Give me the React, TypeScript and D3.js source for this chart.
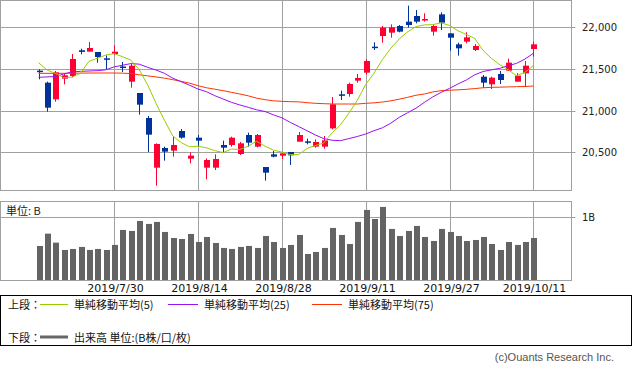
import React from "react";
import * as d3 from "d3";

const dates = [
  "7/17","7/18","7/19","7/22","7/23","7/24","7/25","7/26","7/29","7/30","7/31",
  "8/1","8/2","8/5","8/6","8/7","8/8","8/9","8/13","8/14","8/15","8/16","8/19","8/20","8/21","8/22","8/23","8/26","8/27","8/28","8/29","8/30",
  "9/2","9/3","9/4","9/5","9/6","9/9","9/10","9/11","9/12","9/13","9/17","9/18","9/19","9/20","9/24","9/25","9/26","9/27","9/30",
  "10/1","10/2","10/3","10/4","10/7","10/8","10/9","10/10","10/11",
];

const opens = [21480,21336,21136,21384,21416,21725,21708,21704,21628,21680,21530,21348,21212,20912,20316,20552,20520,20756,20424,20676,20316,20316,20588,20588,20480,20708,20568,20324,20476,20460,20504,20628,20632,20568,20568,20788,21196,21200,21360,21456,21768,21896,21936,22016,22068,22136,22088,21948,22156,21928,21796,21828,21728,21408,21316,21440,21480,21348,21448,21740];
const highs = [21496,21348,21476,21440,21680,21744,21824,21704,21664,21784,21584,21560,21212,20936,20608,20568,20696,20780,20500,20708,20428,20476,20640,20688,20624,20736,20720,20324,20516,20488,20504,20744,20664,20656,20696,21164,21240,21336,21440,21616,21820,22016,22036,22028,22260,22208,22168,22028,22180,21928,21816,21940,21800,21428,21408,21476,21624,21450,21596,21828];
const lows = [21376,20988,21108,21316,21400,21676,21708,21576,21500,21668,21464,21276,20952,20504,20100,20400,20448,20664,20368,20568,20176,20288,20496,20568,20468,20568,20560,20160,20440,20420,20348,20628,20596,20556,20544,20776,21128,21168,21336,21432,21728,21816,21876,21940,22000,22048,22068,21900,21968,21720,21660,21808,21716,21276,21260,21320,21476,21348,21296,21648];
const closes = [21469,21036,21460,21424,21620,21705,21752,21644,21616,21708,21520,21540,21072,20712,20600,20508,20588,20676,20460,20640,20408,20420,20556,20676,20608,20616,20708,20256,20448,20488,20464,20708,20620,20624,20644,21076,21188,21320,21392,21596,21760,21996,22000,21948,22028,22068,22100,22016,22056,21876,21748,21880,21776,21336,21396,21368,21576,21420,21540,21796];

const ma5 = [21576,21488,21448,21396,21402,21449,21592,21629,21667,21685,21648,21606,21491,21310,21089,20886,20696,20617,20566,20574,20554,20521,20497,20540,20534,20575,20633,20573,20527,20503,20473,20473,20546,20581,20612,20734,20830,20970,21124,21314,21451,21613,21749,21860,21946,22008,22029,22032,22054,22023,21959,21915,21867,21723,21627,21551,21490,21419,21460,21540];
const ma25 = [21400,21405,21410,21440,21465,21472,21476,21480,21490,21525,21545,21565,21558,21520,21488,21448,21390,21348,21305,21260,21228,21180,21140,21100,21068,21040,21010,20990,20950,20915,20860,20810,20760,20708,20665,20645,20640,20665,20690,20720,20760,20795,20850,20920,20975,21030,21100,21165,21220,21268,21320,21368,21430,21470,21490,21508,21540,21568,21620,21688];
const ma75 = [21448,21448,21448,21448,21450,21450,21452,21452,21452,21452,21450,21445,21430,21418,21405,21390,21372,21352,21330,21300,21275,21258,21240,21220,21200,21178,21150,21132,21118,21112,21108,21106,21096,21088,21084,21080,21080,21080,21080,21088,21094,21104,21118,21138,21160,21185,21200,21225,21240,21245,21250,21256,21265,21275,21280,21282,21285,21288,21290,21296];

// volume in billions of shares
const volumes = [0.543,0.739,0.596,0.479,0.495,0.527,0.479,0.495,0.479,0.559,0.798,0.782,0.941,0.894,0.926,0.766,0.670,0.654,0.734,0.606,0.686,0.590,0.511,0.495,0.527,0.543,0.511,0.702,0.606,0.511,0.559,0.718,0.415,0.447,0.511,0.830,0.718,0.574,0.926,1.117,0.973,1.165,0.814,0.702,0.782,0.862,0.686,0.622,0.814,0.766,0.702,0.622,0.638,0.686,0.574,0.479,0.606,0.559,0.606,0.670];

const priceTicks = [20500, 21000, 21500, 22000];
const dateTicks = ["7/30", "8/14", "8/28", "9/11", "9/27", "10/11"];
const dateTickLabels = ["2019/7/30", "2019/8/14", "2019/8/28", "2019/9/11", "2019/9/27", "2019/10/11"];
const volumeTicks = [1];
const volumeTickLabels = ["1B"];

const UP = "#ff0033";
const DOWN = "#003399";
const C5 = "#99cc00";
const C25 = "#9911ee";
const C75 = "#ff3300";
const GRID = "#a0a0a0";
const LATIN = "'DejaVu Sans', sans-serif";
const CJK = "'Noto Sans CJK JP', sans-serif";

export default function App() {
  const W = 633, H = 377;
  const left = 0.5, right = 571.5;
  const mainTop = 0.5, mainBottom = 190.5;
  const volTop = 201.5, volBottom = 280.5;

  const x = d3.scalePoint<string>().domain(dates).range([38.6, 533.4]);
  const y = d3.scaleLinear().domain([20042, 22328]).range([190.5, 0]);
  const yv = d3.scaleLinear().domain([0, 1.25]).range([280, 201.6]);

  const px = (d: string) => Math.round(x(d) as number) + 0.5;
  const line = d3
    .line<number>()
    .x((_, i) => x(dates[i]) as number)
    .y((v) => y(v));

  return (
    <svg
      width={W}
      height={H}
      viewBox={`0 0 ${W} ${H}`}
      style={{ position: "absolute", left: 0, top: 0, display: "block", background: "#fff" }}
    >
      {/* main panel grid */}
      {priceTicks.map((t) => {
        const yy = Math.round(y(t)) + 0.5;
        return (
          <g key={t}>
            <line x1={left} x2={right + 4} y1={yy} y2={yy} stroke={GRID} strokeWidth={1} />
            <text x={582} y={yy} dominantBaseline="central" fontFamily={LATIN} fontSize={10} fill="#222">
              {d3.format(",")(t)}
            </text>
          </g>
        );
      })}
      {dateTicks.map((d) => (
        <g key={d}>
          <line x1={px(d)} x2={px(d)} y1={mainTop} y2={mainBottom} stroke={GRID} strokeWidth={1} />
          <line x1={px(d)} x2={px(d)} y1={volTop} y2={volBottom} stroke={GRID} strokeWidth={1} />
        </g>
      ))}
      <rect x={left} y={mainTop} width={right - left} height={mainBottom - mainTop} fill="none" stroke={GRID} strokeWidth={1} />

      {/* candles */}
      {dates.map((d, i) => {
        const o = opens[i], c = closes[i], h = highs[i], l = lows[i];
        const col = c >= o ? UP : DOWN;
        const cx = px(d);
        const top = y(Math.max(o, c));
        const bot = y(Math.min(o, c));
        const bh = Math.max(1.5, bot - top);
        return (
          <g key={d}>
            <line x1={cx} x2={cx} y1={y(h)} y2={y(l)} stroke={col} strokeWidth={1} />
            <rect x={cx - 2.5} y={top} width={6} height={bh} fill={col} />
          </g>
        );
      })}

      {/* moving averages */}
      <path d={line(ma75) || ""} fill="none" stroke={C75} strokeWidth={1} />
      <path d={line(ma25) || ""} fill="none" stroke={C25} strokeWidth={1} />
      <path d={line(ma5) || ""} fill="none" stroke={C5} strokeWidth={1} />

      {/* volume panel */}
      {volumeTicks.map((t, k) => {
        const yy = Math.round(yv(t)) + 0.5;
        return (
          <g key={t}>
            <line x1={left} x2={right + 4} y1={yy} y2={yy} stroke={GRID} strokeWidth={1} />
            <text x={582} y={yy} dominantBaseline="central" fontFamily={LATIN} fontSize={10} fill="#222">
              {volumeTickLabels[k]}
            </text>
          </g>
        );
      })}
      {dates.map((d, i) => (
        <rect
          key={d}
          x={Math.round(x(d) as number) - 2}
          y={yv(volumes[i])}
          width={6}
          height={yv(0) - yv(volumes[i])}
          fill="#646464"
        />
      ))}
      <rect x={left} y={volTop} width={right - left} height={volBottom - volTop} fill="none" stroke={GRID} strokeWidth={1} />
      <text x={6} y={210} dominantBaseline="central" fontFamily={CJK} fontSize={11} fill="#222">
        単位: B
      </text>

      {/* date labels */}
      {dateTicks.map((d, k) => (
        <text key={d} x={px(d) + 1} y={292} textAnchor="middle" fontFamily={LATIN} fontSize={11} fill="#111">
          {dateTickLabels[k]}
        </text>
      ))}

      {/* legend */}
      <rect x={0.5} y={295.5} width={631} height={50} fill="none" stroke="#000" strokeWidth={1} />
      <text x={8} y={304} dominantBaseline="central" fontFamily={CJK} fontSize={11} fill="#111">上段：</text>
      <line x1={40} x2={68} y1={304.5} y2={304.5} stroke={C5} strokeWidth={1} />
      <text x={74} y={304} dominantBaseline="central" fontFamily={CJK} fontSize={11} fill="#111">単純移動平均(5)</text>
      <line x1={168} x2={198} y1={304.5} y2={304.5} stroke={C25} strokeWidth={1} />
      <text x={204} y={304} dominantBaseline="central" fontFamily={CJK} fontSize={11} fill="#111">単純移動平均(25)</text>
      <line x1={312} x2={342} y1={304.5} y2={304.5} stroke={C75} strokeWidth={1} />
      <text x={348} y={304} dominantBaseline="central" fontFamily={CJK} fontSize={11} fill="#111">単純移動平均(75)</text>

      <text x={8} y={337} dominantBaseline="central" fontFamily={CJK} fontSize={11} fill="#111">下段：</text>
      <line x1={40} x2={68} y1={337} y2={337} stroke="#666" strokeWidth={3} />
      <text x={74} y={337} dominantBaseline="central" fontFamily={CJK} fontSize={11} fill="#111">出来高 単位:(B株/口/枚)</text>

      <text x={614} y={357} textAnchor="end" dominantBaseline="central" fontFamily="'Liberation Sans', sans-serif" fontSize={11} fill="#555">
        (c)Ouants Research Inc.
      </text>
    </svg>
  );
}
